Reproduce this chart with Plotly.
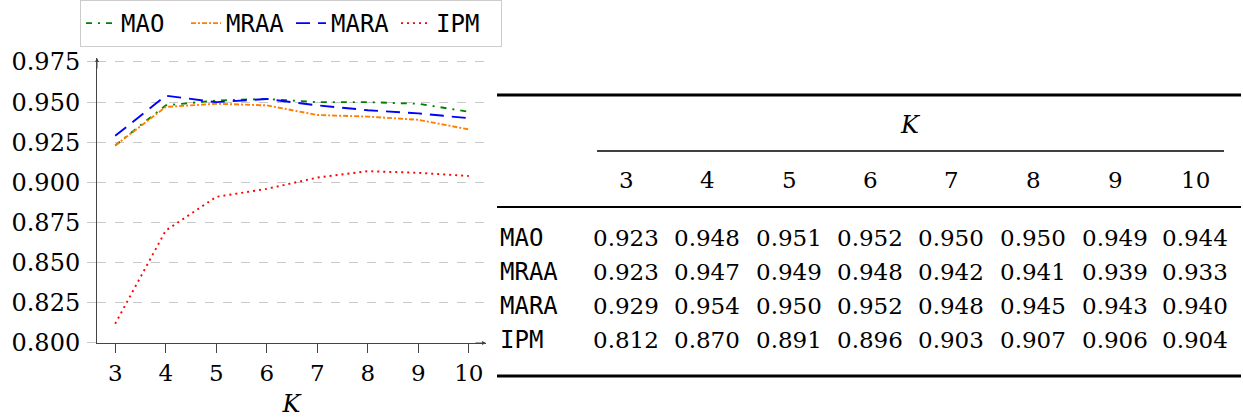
import plotly.graph_objects as go

# Neighbourhood size K and the scores of each method
K = [3, 4, 5, 6, 7, 8, 9, 10]
MAO = [0.923, 0.948, 0.951, 0.952, 0.950, 0.950, 0.949, 0.944]
MRAA = [0.923, 0.947, 0.949, 0.948, 0.942, 0.941, 0.939, 0.933]
MARA = [0.929, 0.954, 0.950, 0.952, 0.948, 0.945, 0.943, 0.940]
IPM = [0.812, 0.870, 0.891, 0.896, 0.903, 0.907, 0.906, 0.904]

methods = ["MAO", "MRAA", "MARA", "IPM"]
series = [MAO, MRAA, MARA, IPM]
y_ticks = [0.800, 0.825, 0.850, 0.875, 0.900, 0.925, 0.950, 0.975]

colors = ["#008000", "#ff8000", "#0000ff", "#ff0000"]
dashes = ["6px,6px,2px,6px", "5px,2px,2px,2px", "14px,8px", "2px,4px"]

W, H = 1243, 418
SERIF = "DejaVu Serif"
MONO = "DejaVu Sans Mono"


def px(x):
    return x / W


def py(y):
    return 1 - y / H


fig = go.Figure()
for name, vals, c, d in zip(methods, series, colors, dashes):
    fig.add_trace(go.Scatter(
        x=K, y=vals, name=name, mode="lines",
        line=dict(color=c, width=1.9, dash=d),
    ))

x_range = [2.64, 10.34]
y_range = [0.800, 0.9775]

fig.update_layout(
    width=W, height=H,
    margin=dict(l=0, r=0, t=0, b=0, autoexpand=False),
    paper_bgcolor="white", plot_bgcolor="white",
    showlegend=True,
    legend=dict(
        orientation="h", x=px(80), y=1.0, xanchor="left", yanchor="top",
        bordercolor="#cccccc", borderwidth=1,
        font=dict(family=MONO, size=24, color="black"),
        itemwidth=30, tracegroupgap=0,
        entrywidth=60, entrywidthmode="pixels",
    ),
    xaxis=dict(
        domain=[px(97), px(486)], range=x_range, automargin=False,
        tickmode="array", tickvals=K, ticktext=[str(k) for k in K],
        showgrid=False, zeroline=False,
        showline=True, linecolor="#444444", linewidth=1,
        ticks="outside", ticklen=9, tickcolor="#444444",
        tickfont=dict(family=SERIF, size=23, color="black"),
        title=dict(text="<i>K</i>", font=dict(family=SERIF, size=24, color="black"),
                   standoff=16),
    ),
    yaxis=dict(
        domain=[py(343), py(343 - (y_range[1] - 0.800) * 1605.7)], range=y_range,
        automargin=False,
        tickmode="array", tickvals=y_ticks, ticktext=[f"{v:.3f}" for v in y_ticks],
        showgrid=True, gridcolor="#c8c8c8", griddash="dash", gridwidth=1,
        zeroline=False,
        showline=True, linecolor="#444444", linewidth=1,
        ticks="outside", ticklen=9, tickcolor="#c8c8c8",
        ticklabelstandoff=2,
        tickfont=dict(family=SERIF, size=24, color="black"),
    ),
)

# Arrow heads at the ends of both axes
fig.add_annotation(x=x_range[1], y=0.800, xref="x", yref="y", ax=-12, ay=0,
                   showarrow=True, arrowhead=2, arrowsize=0.8, arrowwidth=1,
                   arrowcolor="#444444", text="")
fig.add_annotation(x=x_range[0], y=y_range[1], xref="x", yref="y", ax=0, ay=12,
                   showarrow=True, arrowhead=2, arrowsize=0.8, arrowwidth=1,
                   arrowcolor="#444444", text="")

# ---- Booktabs-style results table on the right ----
col_x = [626, 707, 789, 870, 951, 1033, 1115, 1195]
row_y = [238, 272, 306, 340]
label_x = 498


def rule(x0, x1, y, w):
    fig.add_shape(type="line", xref="paper", yref="paper",
                  x0=px(x0), x1=px(x1), y0=py(y), y1=py(y),
                  line=dict(color="black", width=w))


def cell(x, y, text, family, size, xanchor="center"):
    fig.add_annotation(x=px(x), y=py(y), xref="paper", yref="paper",
                       xanchor=xanchor, yanchor="middle",
                       text=text, showarrow=False,
                       font=dict(family=family, size=size, color="black"))


rule(497, 1241, 95, 3)
rule(597, 1224, 151, 1.4)
rule(497, 1241, 207, 1.8)
rule(497, 1241, 376, 3)

cell(910, 125, "<i>K</i>", SERIF, 24)

for k, cx in zip(K, col_x):
    cell(cx, 180, str(k), SERIF, 23)

for name, vals, ry in zip(methods, series, row_y):
    cell(label_x, ry, name, MONO, 24, xanchor="left")
    for v, cx in zip(vals, col_x):
        cell(cx, ry, f"{v:.3f}", SERIF, 23)

fig.write_html("out.html")
